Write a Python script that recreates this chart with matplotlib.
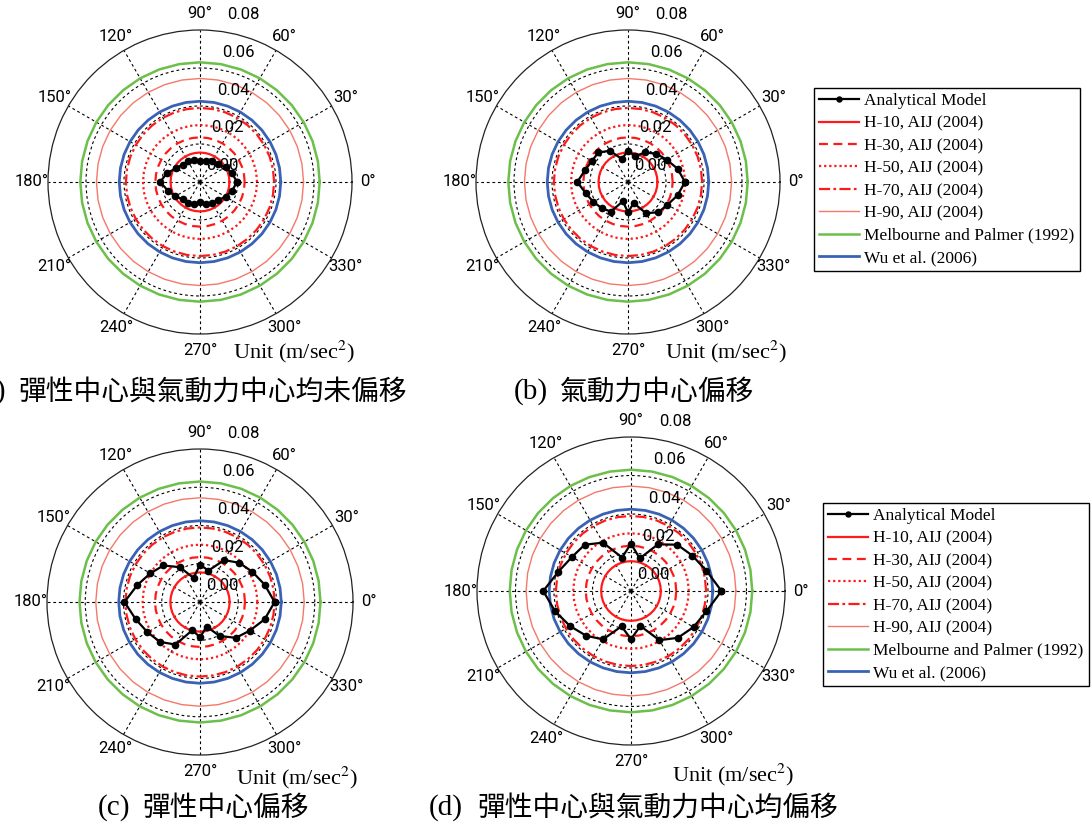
import numpy as np
import matplotlib.pyplot as plt

plt.rcParams['mathtext.fontset'] = 'stix'

# wind directions of the analytical model points (deg)
model_deg = np.arange(0, 360, 15)

# analytical model peak acceleration (m/sec^2), one list per case
model_a = [0.0195, 0.0175, 0.0155, 0.0135, 0.0125, 0.0115, 0.0110, 0.0120,
           0.0125, 0.0130, 0.0145, 0.0180, 0.0210, 0.0175, 0.0150, 0.0130,
           0.0125, 0.0120, 0.0105, 0.0120, 0.0125, 0.0135, 0.0155, 0.0175]
model_b = [0.0300, 0.0270, 0.0235, 0.0210, 0.0180, 0.0140, 0.0165, 0.0125,
           0.0190, 0.0220, 0.0220, 0.0235, 0.0267, 0.0230, 0.0210, 0.0195,
           0.0180, 0.0105, 0.0160, 0.0115, 0.0190, 0.0225, 0.0240, 0.0270]
model_c = [0.0390, 0.0350, 0.0316, 0.0290, 0.0253, 0.0170, 0.0195, 0.0130,
           0.0210, 0.0270, 0.0300, 0.0340, 0.0395, 0.0348, 0.0317, 0.0295,
           0.0257, 0.0152, 0.0185, 0.0133, 0.0205, 0.0265, 0.0300, 0.0350]
model_d = [0.0470, 0.0406, 0.0368, 0.0340, 0.0280, 0.0175, 0.0246, 0.0180,
           0.0290, 0.0340, 0.0354, 0.0390, 0.0456, 0.0408, 0.0365, 0.0329,
           0.0290, 0.0190, 0.0250, 0.0188, 0.0295, 0.0344, 0.0375, 0.0406]

# code / literature limits (same for every direction)
aij_h10 = 0.0155
aij_h30 = 0.0235
aij_h50 = 0.0300
aij_h70 = 0.0390
aij_h90 = 0.0545
melbourne_1992 = 0.0630
wu_2006 = 0.0425

rmax = 0.08
r_labels = [0.00, 0.02, 0.04, 0.06, 0.08]
theta_labels = np.arange(0, 360, 30)

panel_tags = ['(a)', '(b)', '(c)', '(d)']
panel_titles = ['彈性中心與氣動力中心均未偏移', '氣動力中心偏移',
                '彈性中心偏移', '彈性中心與氣動力中心均偏移']

W, H = 1092, 824
fig = plt.figure(figsize=(W / 100, H / 100), dpi=100)


def px_rect(cx, cy, R):
    return [(cx - R) / W, 1 - (cy + R) / H, 2 * R / W, 2 * R / H]


def fx(x):
    return x / W


def fy(y):
    return 1 - y / H


ref_styles = [
    ('H-10, AIJ (2004)', aij_h10, dict(color='#ff1a1a', lw=1.6, ls='-')),
    ('H-30, AIJ (2004)', aij_h30, dict(color='#ff1a1a', lw=1.6, ls=(0, (4, 2.5)))),
    ('H-50, AIJ (2004)', aij_h50, dict(color='#ff1a1a', lw=1.6, ls=(0, (1, 1.3)))),
    ('H-70, AIJ (2004)', aij_h70, dict(color='#ff1a1a', lw=1.6, ls=(0, (5, 1.5, 1.2, 1.5)))),
    ('H-90, AIJ (2004)', aij_h90, dict(color='#f4796a', lw=1.0, ls='-')),
    ('Melbourne and Palmer (1992)', melbourne_1992, dict(color='#6cbf4a', lw=1.8, ls='-')),
    ('Wu et al. (2006)', wu_2006, dict(color='#3a62b4', lw=2.0, ls='-')),
]


def draw_panel(rect, model):
    ax = fig.add_axes(rect, projection='polar')
    ax.set_ylim(0, rmax)
    ax.set_xticks(np.deg2rad(theta_labels))
    ax.set_xticklabels([])
    ax.set_yticks([0.02, 0.04, 0.06])
    ax.set_yticklabels([])
    ax.grid(True, color='k', ls=(0, (2.5, 2.5)), lw=0.8)
    ax.spines['polar'].set_color('#222222')
    ax.spines['polar'].set_linewidth(0.9)

    handles = []
    th = np.deg2rad(np.arange(0, 361, 10))
    for label, val, st in ref_styles:
        h, = ax.plot(th, np.full(th.shape, val), label=label, zorder=3, **st)
        handles.append(h)

    th_m = np.deg2rad(np.append(model_deg, model_deg[0]))
    r_m = np.append(model, model[0])
    hm, = ax.plot(th_m, r_m, color='k', lw=1.6, marker='o', ms=4.5,
                  label='Analytical Model', zorder=5)
    handles.insert(0, hm)

    for d in theta_labels:
        ax.text(np.deg2rad(d), 0.0885, f'{d}°', ha='center', va='center',
                fontsize=12, family='Roboto', clip_on=False)
    for r in r_labels:
        ax.annotate(f'{r:.2f}', xy=(np.deg2rad(82), r), xytext=(4.5, 12),
                    textcoords='offset points', ha='left', va='center',
                    fontsize=12, family='Roboto', annotation_clip=False)
    return ax, handles


centers = [(200, 182, 152), (628, 182, 152), (200, 602, 153), (631, 591, 154)]
unit_pos = [(233, 352), (665, 352), (236, 778), (672, 775)]
tag_pos = [(6, 392), (548, 392), (130, 808), (463, 808)]
title_pos = [(18, 392), (560, 392), (142, 808), (477, 808)]
models = [model_a, model_b, model_c, model_d]

all_handles = []
for i in range(4):
    ax, handles = draw_panel(px_rect(*centers[i]), models[i])
    all_handles.append(handles)
    fig.text(fx(unit_pos[i][0]), fy(unit_pos[i][1]), r'Unit (m/sec$^{2}$)',
             family='Liberation Serif', fontsize=16, ha='left', va='center')
    fig.text(fx(tag_pos[i][0]), fy(tag_pos[i][1]), panel_tags[i],
             family='Liberation Serif', fontsize=21, ha='right', va='center')
    fig.text(fx(title_pos[i][0]), fy(title_pos[i][1]), panel_titles[i],
             family='Noto Sans CJK TC', fontsize=20, ha='left', va='center')

labels = [h.get_label() for h in all_handles[0]]
for handles, (lx, ly) in zip([all_handles[1], all_handles[3]], [(814, 88), (823, 503)]):
    leg = fig.legend(handles, labels, loc='upper left', bbox_to_anchor=(fx(lx), fy(ly)),
                     prop={'family': 'Liberation Serif', 'size': 12.5},
                     frameon=True, fancybox=False, edgecolor='k', framealpha=1,
                     borderpad=0.3, labelspacing=0.36, handlelength=2.3,
                     handletextpad=0.3, borderaxespad=0, numpoints=1, markerscale=0.8)
    leg.get_frame().set_linewidth(1.0)

fig.savefig('out.png', dpi=100)
